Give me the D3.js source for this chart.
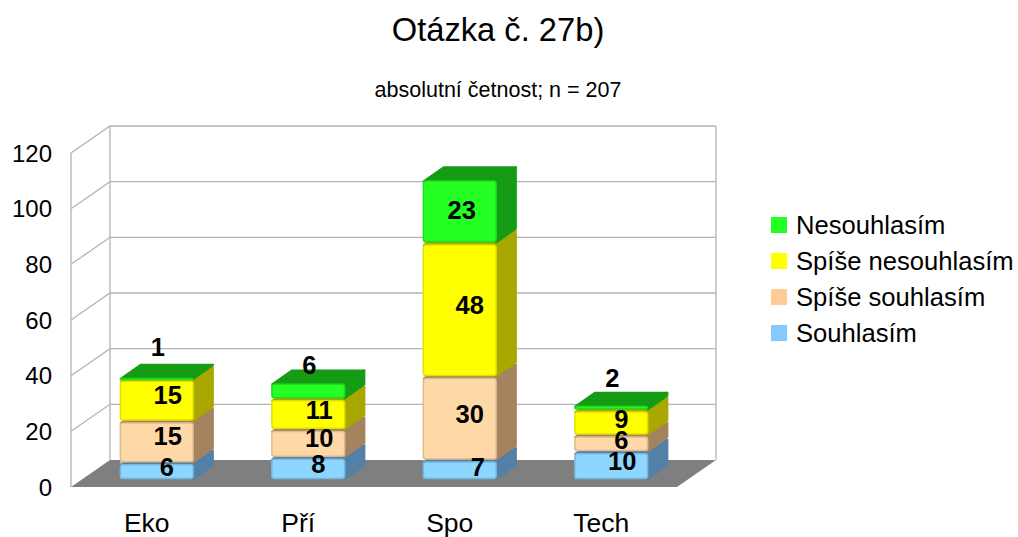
<!DOCTYPE html>
<html>
<head>
<meta charset="utf-8">
<script src="https://cdn.jsdelivr.net/npm/d3@7"></script>
<style>
body { margin: 0; background: #fff; }
text { font-family: "Liberation Sans", Arial, sans-serif; fill: #000; }
</style>
</head>
<body>
<div id="chart"></div>
<script>
var categories = ["Eko", "Pří", "Spo", "Tech"];
var seriesNames = ["Souhlasím", "Spíše souhlasím", "Spíše nesouhlasím", "Nesouhlasím"];
var souhlasim = [6, 8, 7, 10];
var spiseSouhlasim = [15, 10, 30, 6];
var spiseNesouhlasim = [15, 11, 48, 9];
var nesouhlasim = [1, 6, 23, 2];
var yTicks = [0, 20, 40, 60, 80, 100, 120];

var frontColors = ["#8cd6ff", "#ffd8a8", "#ffff00", "#24ff24"];
var sideColors = ["#5280a6", "#a5835f", "#a8a800", "#169c14"];
var legendColors = ["#85c9ff", "#ffcc99", "#ffff00", "#24ff24"];

// hand placed labels in the original, [series][category] = [dx, dy]
var labelNudge = [
    [[0, 2], [0, 2], [8, 4], [1, 2]],
    [[1, 0], [1, 1], [0, 2], [0, 3]],
    [[1, 1], [1, 2], [0, 2], [0, 3]],
    [[-9, -25], [-9, -19], [-8, 5], [-9, -23]]
];

var width = 1018, height = 537;
var depth = {x: 39, y: 27};
var barDepth = {x: 20, y: 14};
var left = 71, right = 677, floorY = 487, topY = 153;

var svg = d3.select("#chart").append("svg")
    .attr("width", width)
    .attr("height", height)
    .style("display", "block");

var x = d3.scaleBand().domain(categories).range([left, right]).paddingInner(0.51).paddingOuter(0.255);
var y = d3.scaleLinear().domain([0, 120]).range([floorY, topY]);

var stack = d3.stack().keys(d3.range(4)).value(function (d, k) {
    return [souhlasim, spiseSouhlasim, spiseNesouhlasim, nesouhlasim][k][d];
});
var layers = stack(d3.range(categories.length));

// walls and grid
var grid = svg.append("g").attr("fill", "none").attr("stroke", "#b3b3b3").attr("stroke-width", 1.3);
grid.selectAll("path.h").data(yTicks.slice(1)).enter().append("path")
    .attr("d", function (t) {
        return "M" + left + "," + y(t) + "L" + (left + depth.x) + "," + (y(t) - depth.y) + "H" + (right + depth.x);
    });
grid.append("path").attr("d", "M" + left + "," + floorY + "V" + topY);
grid.append("path").attr("d", "M" + (left + depth.x) + "," + (floorY - depth.y) + "V" + (topY - depth.y));
grid.append("path").attr("d", "M" + (right + depth.x) + "," + (floorY - depth.y) + "V" + (topY - depth.y));

// floor
svg.append("path")
    .attr("fill", "#7f7f7f")
    .attr("d", "M" + left + "," + floorY + "H" + right + "L" + (right + depth.x) + "," + (floorY - depth.y) +
        "H" + (left + depth.x) + "Z");

// bars, bottom segment first
var shiftX = barDepth.x / 2, shiftY = barDepth.y / 2, gap = 0.8;
var barGroup = svg.append("g");

// pale backing so the floor does not show in the gaps between segments
categories.forEach(function (c, i) {
    var x0 = x(c) + shiftX;
    barGroup.append("rect")
        .attr("x", x0 + 1)
        .attr("y", y(layers[3][i][1]) - shiftY + 1)
        .attr("width", x.bandwidth() - 2)
        .attr("height", y(0) - y(layers[3][i][1]) - 2)
        .attr("fill", "#e8e8e8");
});

layers.forEach(function (layer, s) {
    layer.forEach(function (seg, c) {
        var x0 = x(categories[c]) + shiftX,
            x1 = x0 + x.bandwidth(),
            y0 = y(seg[0]) - shiftY - gap,
            y1 = y(seg[1]) - shiftY + gap;
        var g = barGroup.append("g");
        // side face
        g.append("path")
            .attr("fill", sideColors[s])
            .attr("stroke", sideColors[s])
            .attr("stroke-width", 2)
            .attr("stroke-linejoin", "round")
            .attr("d", "M" + (x1 - 1) + "," + y0 + "L" + (x1 + barDepth.x - 1) + "," + (y0 - barDepth.y) +
                "V" + (y1 - barDepth.y + 1) + "L" + (x1 - 1) + "," + (y1 + 1) + "Z");
        // top face
        g.append("path")
            .attr("fill", sideColors[s])
            .attr("stroke", sideColors[s])
            .attr("stroke-width", 2)
            .attr("stroke-linejoin", "round")
            .attr("d", "M" + (x0 + 1) + "," + (y1 + 1) + "L" + (x0 + barDepth.x + 1) + "," + (y1 - barDepth.y + 1) +
                "H" + (x1 + barDepth.x - 1) + "L" + (x1 - 1) + "," + (y1 + 1) + "Z");
        // front face
        g.append("rect")
            .attr("x", x0 + 0.75)
            .attr("y", y1 + 0.75)
            .attr("width", x.bandwidth() - 1.5)
            .attr("height", Math.max(y0 - y1 - 1.5, 1))
            .attr("rx", 2.5)
            .attr("fill", frontColors[s])
            .attr("stroke", d3.interpolateRgb(frontColors[s], sideColors[s])(0.35))
            .attr("stroke-width", 1.5);
    });
});

// data labels
layers.forEach(function (layer, s) {
    layer.forEach(function (seg, c) {
        var nudge = labelNudge[s][c];
        svg.append("text")
            .attr("x", x(categories[c]) + shiftX + (x.bandwidth() + barDepth.x) / 2 + nudge[0])
            .attr("y", (y(seg[0]) + y(seg[1])) / 2 - shiftY - barDepth.y / 2 + nudge[1])
            .attr("dy", "0.36em")
            .attr("text-anchor", "middle")
            .style("font-size", "25.5px")
            .style("font-weight", "bold")
            .text(seg[1] - seg[0]);
    });
});

// axes
svg.selectAll("text.tick").data(yTicks).enter().append("text")
    .attr("class", "tick")
    .attr("x", 52)
    .attr("y", function (t) { return y(t); })
    .attr("dy", "0.36em")
    .attr("text-anchor", "end")
    .style("font-size", "24px")
    .text(function (t) { return t; });

svg.selectAll("text.cat").data(categories).enter().append("text")
    .attr("class", "cat")
    .attr("x", function (c) { return x(c) + x.bandwidth() / 2; })
    .attr("y", 532)
    .attr("text-anchor", "middle")
    .style("font-size", "26.5px")
    .text(function (c) { return c; });

// titles
svg.append("text").attr("x", 498).attr("y", 41).attr("text-anchor", "middle")
    .style("font-size", "32.7px").text("Otázka č. 27b)");
svg.append("text").attr("x", 498).attr("y", 97).attr("text-anchor", "middle")
    .style("font-size", "21.5px").text("absolutní četnost; n = 207");

// legend, top entry is the last series
var legend = svg.selectAll("g.legend").data(seriesNames.slice().reverse()).enter().append("g")
    .attr("class", "legend")
    .attr("transform", function (d, i) { return "translate(0," + (225 + i * 36) + ")"; });
legend.append("rect")
    .attr("x", 771).attr("y", -8).attr("width", 16).attr("height", 16)
    .attr("fill", function (d, i) { return legendColors[3 - i]; });
legend.append("text")
    .attr("x", 796)
    .attr("dy", "0.36em")
    .style("font-size", "25.6px")
    .text(function (d) { return d; });
</script>
</body>
</html>
